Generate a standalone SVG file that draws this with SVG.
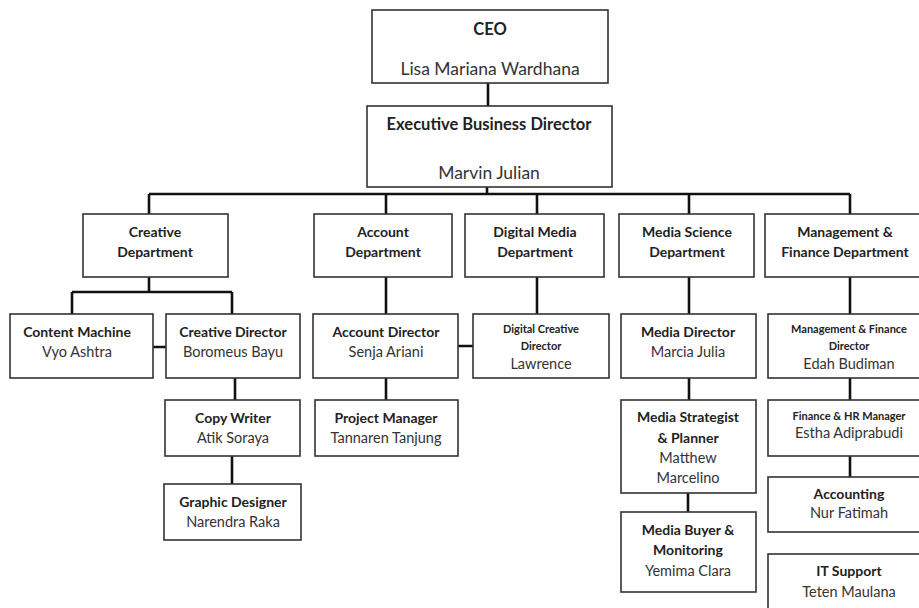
<svg xmlns="http://www.w3.org/2000/svg" width="919" height="608" viewBox="0 0 919 608">
<style>
.box{fill:#fff;stroke:#333;stroke-width:1.6}
.c{fill:none;stroke:#111;stroke-width:2.6}
text{font-family:Lato,"Open Sans","Liberation Sans",sans-serif;text-anchor:middle;fill:#222}
.t{font-weight:bold;font-size:14px}
.n{font-size:14.5px;fill:#333}
.s{font-weight:bold;font-size:11px}
.big{font-size:17.5px;fill:#333}
.bigt{font-weight:bold;font-size:16.5px}
</style>
<rect width="919" height="608" fill="#fff"/>
<g id="connectors">
<path class="c" d="M488 83V106M487 187V194M149 194H850M149 194V214M386 194V214M537 194V214M689 194V214M850 194V214"/>
<path class="c" d="M149 277V292M72 292H232M72 292V314M232 292V314M153 347H166M235 378V400M232 456V484"/>
<path class="c" d="M386 277V314M386 378V400M458 346H473M537 277V314"/>
<path class="c" d="M689 277V314M689 378V400M688 493V512"/>
<path class="c" d="M850 277V314M850 378V400M850 456V477"/>
</g>
<g id="ceo"><rect class="box" x="372" y="10" width="236" height="73"/><text class="bigt" x="490" y="35">CEO</text><text class="big" x="490" y="75">Lisa Mariana Wardhana</text></g>
<g id="ebd"><rect class="box" x="367" y="106" width="245" height="81"/><text class="bigt" x="489" y="130">Executive Business Director</text><text class="big" x="489" y="179">Marvin Julian</text></g>
<g id="creative-dept"><rect class="box" x="83" y="214" width="145" height="63"/><text class="t" x="155" y="237">Creative</text><text class="t" x="155" y="257">Department</text></g>
<g id="account-dept"><rect class="box" x="314" y="214" width="138" height="63"/><text class="t" x="383" y="237">Account</text><text class="t" x="383" y="257">Department</text></g>
<g id="digital-dept"><rect class="box" x="465" y="214" width="139" height="63"/><text class="t" x="535" y="237">Digital Media</text><text class="t" x="535" y="257">Department</text></g>
<g id="media-science-dept"><rect class="box" x="619" y="214" width="135" height="63"/><text class="t" x="687" y="237">Media Science</text><text class="t" x="687" y="257">Department</text></g>
<g id="mgmt-dept"><rect class="box" x="765" y="214" width="165" height="63"/><text class="t" x="845" y="237">Management &amp;</text><text class="t" x="845" y="257">Finance Department</text></g>
<g id="content-machine"><rect class="box" x="10" y="314" width="143" height="64"/><text class="t" x="77" y="337">Content Machine</text><text class="n" x="77" y="357">Vyo Ashtra</text></g>
<g id="creative-director"><rect class="box" x="166" y="314" width="134" height="64"/><text class="t" x="233" y="337">Creative Director</text><text class="n" x="233" y="357">Boromeus Bayu</text></g>
<g id="copy-writer"><rect class="box" x="165" y="400" width="135" height="56"/><text class="t" x="233" y="423">Copy Writer</text><text class="n" x="233" y="443">Atik Soraya</text></g>
<g id="graphic-designer"><rect class="box" x="164" y="484" width="137" height="56"/><text class="t" x="233" y="507">Graphic Designer</text><text class="n" x="233" y="527">Narendra Raka</text></g>
<g id="account-director"><rect class="box" x="313" y="314" width="145" height="64"/><text class="t" x="386" y="337">Account Director</text><text class="n" x="386" y="357">Senja Ariani</text></g>
<g id="project-manager"><rect class="box" x="315" y="400" width="143" height="56"/><text class="t" x="386" y="423">Project Manager</text><text class="n" x="386" y="443">Tannaren Tanjung</text></g>
<g id="digital-creative-director"><rect class="box" x="473" y="314" width="136" height="64"/><text class="s" x="541" y="333">Digital Creative</text><text class="s" x="541" y="350">Director</text><text class="n" x="541" y="369">Lawrence</text></g>
<g id="media-director"><rect class="box" x="621" y="314" width="135" height="64"/><text class="t" x="688" y="337">Media Director</text><text class="n" x="688" y="357">Marcia Julia</text></g>
<g id="media-strategist"><rect class="box" x="621" y="400" width="135" height="93"/><text class="t" x="688" y="422">Media Strategist</text><text class="t" x="688" y="443">&amp; Planner</text><text class="n" x="688" y="463">Matthew</text><text class="n" x="688" y="483">Marcelino</text></g>
<g id="media-buyer"><rect class="box" x="621" y="512" width="135" height="80"/><text class="t" x="688" y="535">Media Buyer &amp;</text><text class="t" x="688" y="555">Monitoring</text><text class="n" x="688" y="576">Yemima Clara</text></g>
<g id="mf-director"><rect class="box" x="768" y="314" width="162" height="64"/><text class="s" x="849" y="333">Management &amp; Finance</text><text class="s" x="849" y="350">Director</text><text class="n" x="849" y="369">Edah Budiman</text></g>
<g id="finance-hr"><rect class="box" x="768" y="400" width="162" height="56"/><text class="s" x="849" y="420">Finance &amp; HR Manager</text><text class="n" x="849" y="438">Estha Adiprabudi</text></g>
<g id="accounting"><rect class="box" x="768" y="477" width="162" height="55"/><text class="t" x="849" y="499">Accounting</text><text class="n" x="849" y="518">Nur Fatimah</text></g>
<g id="it-support"><rect class="box" x="768" y="554" width="162" height="70"/><text class="t" x="849" y="576">IT Support</text><text class="n" x="849" y="597">Teten Maulana</text></g>
</svg>
